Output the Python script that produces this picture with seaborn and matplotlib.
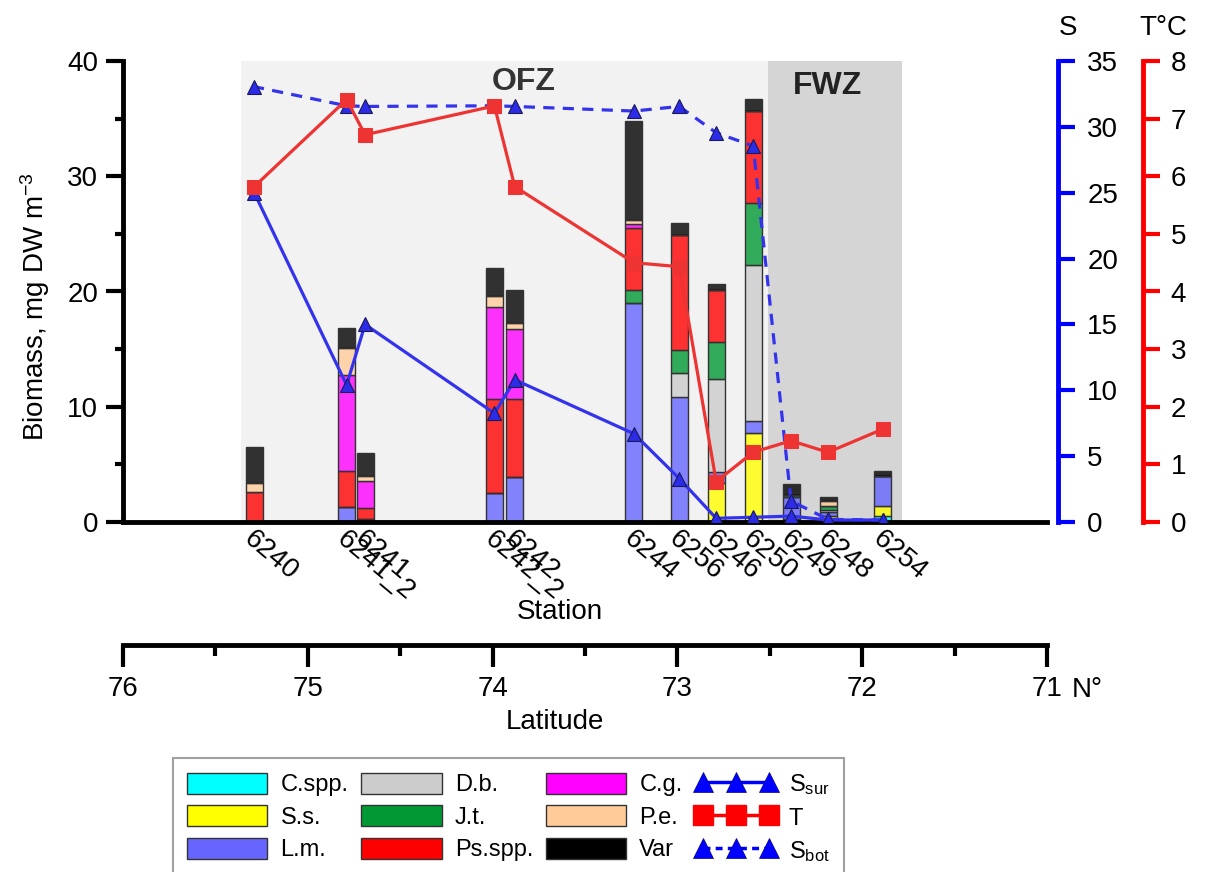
import numpy as np
import pandas as pd
import matplotlib
matplotlib.use("Agg")
import matplotlib.pyplot as plt
from matplotlib.patches import Patch
from matplotlib.lines import Line2D
from matplotlib.ticker import MultipleLocator, FixedLocator
from matplotlib.transforms import ScaledTranslation
import seaborn as sns

# ---- stations and their latitude (deg N) ----
stations = ["6240", "6241_2", "6241", "6242_2", "6242", "6244",
            "6256", "6246", "6250", "6249", "6248", "6254"]
latitude = [75.29, 74.79, 74.69, 73.99, 73.88, 73.235,
            72.99, 72.79, 72.59, 72.385, 72.185, 71.89]

# ---- biomass by taxon, mg DW m-3 (stacked bottom to top in this order) ----
c_spp  = [0, 0, 0, 0, 0, 0, 0, 0, 0, 0.15, 0.30, 0.55]
s_s    = [0, 0, 0, 0, 0, 0, 0, 3.41, 7.75, 0.15, 0.23, 0.84]
l_m    = [0, 1.33, 0.23, 2.49, 3.93, 18.97, 10.87, 0.96, 1.01, 1.90, 0.35, 2.63]
d_b    = [0, 0, 0, 0, 0, 0, 2.03, 8.01, 13.54, 0, 0.12, 0]
j_t    = [0, 0, 0, 0, 0, 1.16, 2.02, 3.21, 5.35, 0.14, 0.37, 0]
ps_spp = [2.60, 3.07, 0.96, 8.15, 6.71, 5.41, 9.98, 4.54, 8.01, 0, 0, 0]
c_g    = [0, 8.35, 2.40, 8.01, 6.08, 0.29, 0, 0, 0, 0, 0, 0]
p_e    = [0.80, 2.38, 0.43, 0.99, 0.58, 0.37, 0, 0, 0, 0, 0.46, 0]
var    = [3.10, 1.67, 1.98, 2.36, 2.83, 8.62, 1.07, 0.49, 1.04, 0.96, 0.30, 0.40]

taxa = ["C.spp.", "S.s.", "L.m.", "D.b.", "J.t.", "Ps.spp.", "C.g.", "P.e.", "Var"]
taxa_values = [c_spp, s_s, l_m, d_b, j_t, ps_spp, c_g, p_e, var]
taxa_colors = ["#00FFFF", "#FFFF00", "#6666FF", "#CCCCCC", "#009933",
               "#FF0000", "#FF00FF", "#FFCC99", "#000000"]

# ---- hydrography ----
s_sur = [25.0, 10.4, 15.0, 8.25, 10.8, 6.7, 3.3, 0.28, 0.36, 0.45, 0.15, 0.15]
s_bot = [33.05, 31.6, 31.55, 31.6, 31.55, 31.2, 31.55, 29.55, 28.55, 1.6, 0.2, 0.15]
temp  = [5.82, 7.33, 6.72, 7.22, 5.82, 4.50, 4.43, 0.70, 1.21, 1.41, 1.21, 1.61]

# frontal zones (latitude limits)
ofz = (72.51, 75.36)
fwz = (71.785, 72.51)

sns.set_style("ticks")
plt.rcParams["font.family"] = ["Liberation Sans", "DejaVu Sans"]
plt.rcParams["mathtext.default"] = "regular"
for key in ("text.color", "axes.labelcolor", "xtick.color", "ytick.color",
            "xtick.labelcolor", "ytick.labelcolor"):
    plt.rcParams[key] = "black"

W, H = 1208, 872
fig = plt.figure(figsize=(W / 100, H / 100), dpi=100)

def fx(px):
    return px / W

def fy(py):
    return 1 - py / H

# main biomass axes
ax = fig.add_axes([fx(123), fy(522), fx(1047) - fx(123), fy(61) - fy(522)])
ax.set_facecolor("none")

ax.axvspan(*ofz, color="#F2F2F2", lw=0, zorder=0)
ax.axvspan(*fwz, color="#D5D5D5", lw=0, zorder=0)

bar_w = 0.092
bio = pd.DataFrame(
    [(lat, t, v) for t, vals in zip(taxa, taxa_values) for lat, v in zip(latitude, vals)],
    columns=["lat", "taxon", "biomass"],
)
edges = sorted([lat - bar_w / 2 for lat in latitude] + [lat + bar_w / 2 for lat in latitude])
sns.histplot(data=bio, x="lat", weights="biomass", hue="taxon",
             hue_order=taxa[::-1], palette=dict(zip(taxa, taxa_colors)),
             multiple="stack", bins=edges, alpha=0.8, edgecolor="#333333",
             linewidth=1.0, legend=False, ax=ax)

ax.text(73.83, 38.2, "OFZ", ha="center", va="center", fontsize=23,
        fontweight="bold", color="#333333")
ax.text(72.19, 37.8, "FWZ", ha="center", va="center", fontsize=23,
        fontweight="bold", color="#222222")

ax.set_xlim(76, 71)
ax.set_ylim(0, 40)
ax.yaxis.set_major_locator(MultipleLocator(10))
ax.yaxis.set_minor_locator(MultipleLocator(5))
ax.tick_params(axis="y", which="major", direction="out", length=12, width=3,
               labelsize=20, pad=6, color="black", labelcolor="black")
ax.tick_params(axis="y", which="minor", direction="out", length=6, width=3,
               color="black")
ax.set_xticks(latitude, stations)
ax.tick_params(axis="x", length=0, labelsize=20, pad=3, labelcolor="black")
shift = ScaledTranslation(-15 / 100, 0, fig.dpi_scale_trans)
for lab in ax.get_xticklabels():
    lab.set_rotation(-40)
    lab.set_ha("left")
    lab.set_va("top")
    lab.set_transform(lab.get_transform() + shift)
ax.set_xlabel("")
ax.set_ylabel("Biomass, mg DW m$^{-3}$", fontsize=20, color="black")
ax.yaxis.set_label_coords(-0.077, 0.467)
for side in ("top", "right"):
    ax.spines[side].set_visible(False)
ax.spines["left"].set_linewidth(3.5)
ax.spines["bottom"].set_linewidth(3.5)
ax.spines["left"].set_color("black")
ax.spines["bottom"].set_color("black")

fig.text(fx(560), fy(612), "Station", ha="center", va="center", fontsize=20)

# salinity axis
ax_s = ax.twinx()
ax_s.set_facecolor("none")
sns.lineplot(x=latitude, y=s_sur, ax=ax_s, color="#3333EE", lw=2.3,
             marker="^", markersize=10, markerfacecolor="#2B2BE8",
             markeredgecolor="#1A1A55", markeredgewidth=0.8, legend=False)
sns.lineplot(x=latitude, y=s_bot, ax=ax_s, color="#3333EE", lw=2.3,
             linestyle=(0, (3.5, 2.6)), marker="^", markersize=10,
             markerfacecolor="#2B2BE8", markeredgecolor="#1A1A55",
             markeredgewidth=0.8, legend=False)
ax_s.set_ylim(0, 35)
ax_s.yaxis.set_major_locator(MultipleLocator(5))
ax_s.set_ylabel("")
ax_s.spines["right"].set_position(("outward", 8))
ax_s.spines["right"].set_color("#0000FF")
ax_s.spines["right"].set_linewidth(3.5)
for side in ("top", "left", "bottom"):
    ax_s.spines[side].set_visible(False)
ax_s.tick_params(axis="y", direction="out", length=12, width=3, color="#0000FF",
                 labelcolor="black", labelsize=20, pad=9)

# temperature axis
ax_t = ax.twinx()
ax_t.set_facecolor("none")
sns.lineplot(x=latitude, y=temp, ax=ax_t, color="#EE3333", lw=2.3,
             marker="s", markersize=10, markerfacecolor="#EE3333",
             markeredgecolor="#EE3333", legend=False)
ax_t.set_ylim(0, 8)
ax_t.yaxis.set_major_locator(MultipleLocator(1))
ax_t.set_ylabel("")
ax_t.spines["right"].set_position(("outward", 69))
ax_t.spines["right"].set_color("#FF0000")
ax_t.spines["right"].set_linewidth(3.5)
for side in ("top", "left", "bottom"):
    ax_t.spines[side].set_visible(False)
ax_t.tick_params(axis="y", direction="out", length=12, width=3, color="#FF0000",
                 labelcolor="black", labelsize=20, pad=8)

for a in (ax_s, ax_t):
    a.set_xlim(76, 71)
    a.set_xlabel("")

fig.text(fx(1068), fy(28), "S", ha="center", va="center", fontsize=20)
fig.text(fx(1163), fy(28), "T°C", ha="center", va="center", fontsize=20)

# latitude scale
ax_lat = fig.add_axes([fx(123), fy(645), fx(1047) - fx(123), 0.0001])
ax_lat.set_facecolor("none")
ax_lat.set_xlim(76, 71)
ax_lat.set_yticks([])
for side in ("top", "left", "right"):
    ax_lat.spines[side].set_visible(False)
ax_lat.spines["bottom"].set_linewidth(3.5)
ax_lat.spines["bottom"].set_color("black")
ax_lat.xaxis.set_major_locator(FixedLocator([76, 75, 74, 73, 72, 71]))
ax_lat.xaxis.set_minor_locator(FixedLocator([75.5, 74.5, 73.5, 72.5, 71.5]))
ax_lat.tick_params(axis="x", which="major", direction="out", length=16, width=3,
                   labelsize=20, pad=6, color="black", labelcolor="black")
ax_lat.tick_params(axis="x", which="minor", direction="out", length=8, width=3,
                   color="black")
fig.text(fx(1087), fy(690), "N°", ha="center", va="center", fontsize=20)
fig.text(fx(555), fy(722), "Latitude", ha="center", va="center", fontsize=20)

# legend
handles = [Patch(facecolor=c, edgecolor="#333333", lw=1) for c in taxa_colors]
labels = list(taxa)
handles += [
    Line2D([], [], color="#0000FF", lw=2.5, marker="^", ms=14,
           markerfacecolor="#0000FF", markeredgecolor="#000080", markeredgewidth=0.5),
    Line2D([], [], color="#FF0000", lw=2.5, marker="s", ms=15,
           markerfacecolor="#FF0000", markeredgecolor="#FF0000"),
    Line2D([], [], color="#0000FF", lw=2.5, ls=(0, (2, 1.5)), marker="^", ms=14,
           markerfacecolor="#0000FF", markeredgecolor="#000080", markeredgewidth=0.5),
]
labels += ["S$_{sur}$", "T", "S$_{bot}$"]
leg = fig.legend(handles, labels, ncol=4, loc="upper left",
                 bbox_to_anchor=(fx(173), fy(758)), fontsize=17,
                 frameon=True, fancybox=False, edgecolor="#888888",
                 handlelength=3.4, handleheight=1.0, handletextpad=0.55,
                 labelspacing=0.38, columnspacing=0.55, borderpad=0.6,
                 numpoints=3, borderaxespad=0)
leg.get_frame().set_linewidth(1.5)
for txt in leg.get_texts():
    txt.set_color("black")

fig.savefig("out.png", dpi=100, facecolor="white")
